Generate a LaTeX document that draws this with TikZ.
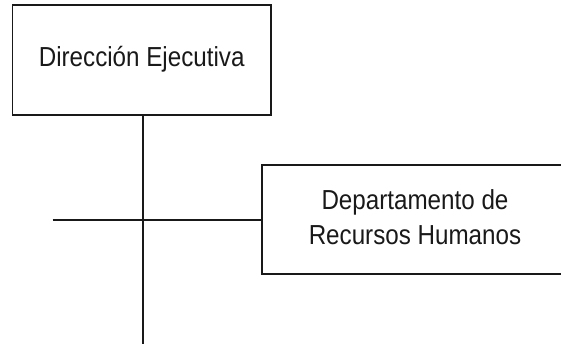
\documentclass[tikz,border=0pt]{standalone}
\usepackage{graphicx}
\usepackage{fontspec}
\setmainfont{Liberation Sans}
% narrow-set centred label text
\newcommand\squeezed[1]{\scalebox{0.88}[1]{\begin{tabular}{@{}c@{}}#1\end{tabular}}}
\begin{document}
\begin{tikzpicture}[x=1pt,y=-1pt,
  orgbox/.style={draw=black!90,line width=1.7pt,rectangle,inner sep=0pt,
    font=\fontsize{27.5}{34.6}\selectfont,text=black!90},
  link/.style={draw=black!90,line width=1.7pt}]
  \useasboundingbox (0,0) rectangle (561,344);
  \node[orgbox,minimum width=258.5pt,minimum height=109.4pt] (dir) at (141.7,60) {\squeezed{Dirección Ejecutiva}};
  \node[orgbox,minimum width=306pt,minimum height=109pt] (rrhh) at (415,219.8) {\squeezed{Departamento de\\Recursos Humanos}};
  \coordinate (bottom) at (143.3,345);
  \coordinate (left) at (52.7,219.8);
  \draw[link] (dir.south -| bottom) -- (bottom);
  \draw[link] (left) -- (rrhh.west);
\end{tikzpicture}
\end{document}
